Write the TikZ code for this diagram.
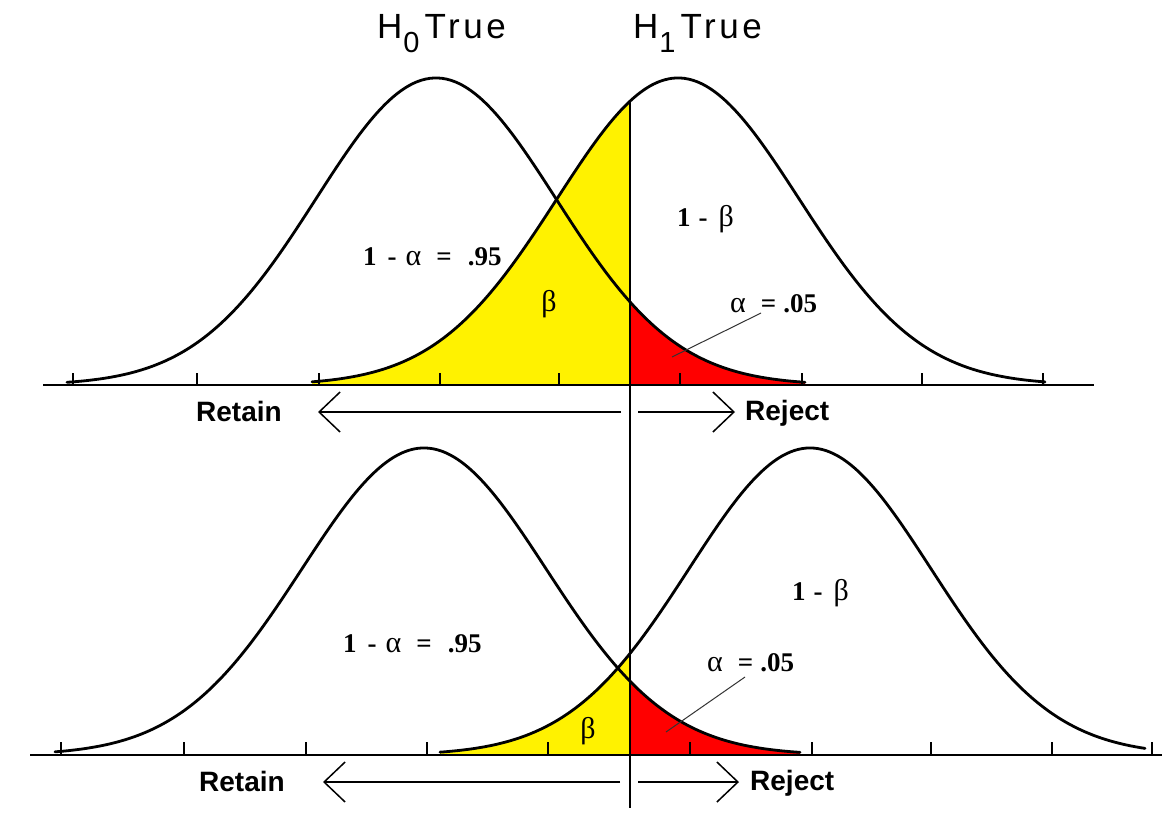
\documentclass[tikz,border=0pt]{standalone}
\usepackage{fontspec}
\setmainfont{Liberation Serif}
\setsansfont{Liberation Sans}
\newfontfamily\titlefont{Liberation Sans}[LetterSpace=10]
\usetikzlibrary{arrows.meta}
\newcommand{\myalpha}{{\normalfont\fontsize{30}{32}\selectfont α}}
\newcommand{\mybeta}{{\normalfont\fontsize{30}{32}\selectfont β}}
\newcommand{\oneminusalpha}{1\hspace{11pt}-\hspace{9pt}\myalpha\hspace{15pt}=\hspace{16pt}.95}
\newcommand{\alphafive}{\myalpha\hspace{15pt}=\hspace{7pt}.05}
\newcommand{\oneminusbeta}{1\hspace{8pt}-\hspace{11pt}\mybeta}
\newcommand{\htitle}[1]{{\sffamily\fontsize{35}{40}\selectfont H}\hspace{1pt}\raisebox{-14pt}{\sffamily\fontsize{29}{30}\selectfont #1}\hspace{5pt}{\titlefont\fontsize{35}{40}\selectfont True}}
\begin{document}
\begin{tikzpicture}[x=1pt,y=-1pt,
  declare function={
    ga(\x)=385-307*exp(-0.5*((\x-436)/120)*((\x-436)/120));
    gb(\x)=385-307*exp(-0.5*((\x-678)/121)*((\x-678)/121));
    gc(\x)=755-307*exp(-0.5*((\x-424)/122)*((\x-424)/122));
    gd(\x)=755-307*exp(-0.5*((\x-810)/121)*((\x-810)/121));
  },
  curve/.style={line width=2.8pt,line join=round,line cap=round},
  baseaxis/.style={line width=2pt},
  tickmark/.style={line width=1.4pt},
  critline/.style={line width=1.4pt},
  leader/.style={line width=1pt,black!80},
  betafill/.style={fill=yellow},
  alphafill/.style={fill=red},
  dirarrow/.style={line width=1.5pt,-{Straight Barb[length=21pt,width=40pt]}},
  serlabel/.style={font=\bfseries\fontsize{27}{30}\selectfont,inner sep=0pt,anchor=base west},
  greeklabel/.style={inner sep=0pt,anchor=base},
  decision/.style={font=\sffamily\bfseries\fontsize{28}{30}\selectfont,inner sep=0pt,anchor=base west},
  titlelabel/.style={inner sep=0pt,anchor=base west}
]
\useasboundingbox (0,0) rectangle (1166,833);
\fill[white] (0,0) rectangle (1166,833);

% ---------- titles ----------
\node[titlelabel] (t0) at (377,38) {\htitle{0}};
\node[titlelabel] (t1) at (633,38) {\htitle{1}};

% ---------- top panel ----------
\fill[betafill] plot[domain=312:630,samples=80] (\x,{gb(\x)}) -- (630,385) -- (312,385) -- cycle;
\fill[alphafill] plot[domain=630:805,samples=60] (\x,{ga(\x)}) -- (805,385) -- (630,385) -- cycle;
\draw[curve] plot[domain=67:805,samples=180,smooth] (\x,{ga(\x)});
\draw[curve] plot[domain=312:1045,samples=180,smooth] (\x,{gb(\x)});
\draw[baseaxis] (43,385) -- (1094,385);
\foreach \t in {73,197,319,440,559,680,802,922,1043}
  \draw[tickmark] (\t,373) -- (\t,385);

% ---------- bottom panel ----------
\fill[betafill] plot[domain=440:630,samples=60] (\x,{gd(\x)}) -- (630,755) -- (440,755) -- cycle;
\fill[alphafill] plot[domain=630:800,samples=60] (\x,{gc(\x)}) -- (800,755) -- (630,755) -- cycle;
\draw[curve] plot[domain=55:800,samples=180,smooth] (\x,{gc(\x)});
\draw[curve] plot[domain=440:1145,samples=180,smooth] (\x,{gd(\x)});
\draw[baseaxis] (30,755) -- (1162,755);
\foreach \t in {61,184,306,427,548,690,812,931,1052,1152}
  \draw[tickmark] (\t,742) -- (\t,755);

% ---------- critical value line ----------
\coordinate (ctop) at (630,101);
\coordinate (cbot) at (630,808);
\draw[critline] (ctop) -- (cbot);

% ---------- top labels ----------
\node[serlabel] (a1) at (363,265) {\oneminusalpha};
\node[greeklabel] (b1) at (549,311) {\mybeta};
\node[serlabel] (p1) at (677,226) {\oneminusbeta};
\node[serlabel] (s1) at (730,312) {\alphafive};
\coordinate (l1s) at (761,313);
\coordinate (l1e) at (672,357);
\draw[leader] (l1s) -- (l1e);

\node[decision] (ret1) at (196,421) {Retain};
\node[decision] (rej1) at (745,420) {Reject};
\coordinate (ar1s) at (621,412);
\coordinate (ar1e) at (318,412);
\coordinate (aj1s) at (638,412);
\coordinate (aj1e) at (735,412);
\draw[dirarrow] (ar1s) -- (ar1e);
\draw[dirarrow] (aj1s) -- (aj1e);

% ---------- bottom labels ----------
\node[serlabel] (a2) at (343,652) {\oneminusalpha};
\node[greeklabel] (b2) at (588,738) {\mybeta};
\node[serlabel] (p2) at (792,600) {\oneminusbeta};
\node[serlabel] (s2) at (707,671) {\alphafive};
\coordinate (l2s) at (745,677);
\coordinate (l2e) at (666,732);
\draw[leader] (l2s) -- (l2e);

\node[decision] (ret2) at (199,791) {Retain};
\node[decision] (rej2) at (750,790) {Reject};
\coordinate (ar2s) at (620,782);
\coordinate (ar2e) at (323,782);
\coordinate (aj2s) at (638,782);
\coordinate (aj2e) at (739,782);
\draw[dirarrow] (ar2s) -- (ar2e);
\draw[dirarrow] (aj2s) -- (aj2e);
\end{tikzpicture}
\end{document}
